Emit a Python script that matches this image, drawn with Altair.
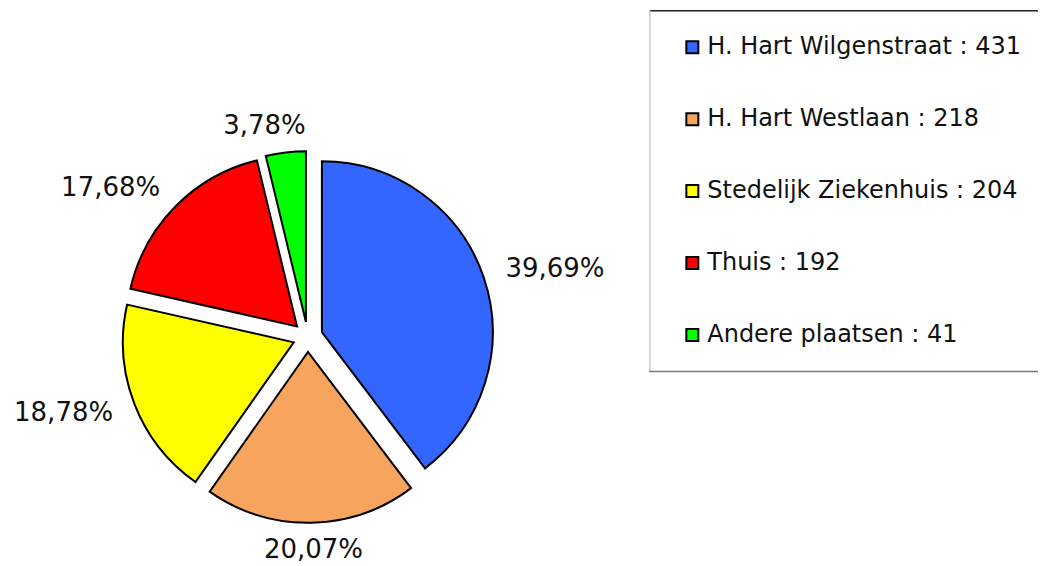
import altair as alt
import pandas as pd

categories = ["H. Hart Wilgenstraat", "H. Hart Westlaan", "Stedelijk Ziekenhuis", "Thuis", "Andere plaatsen"]
counts = [431, 218, 204, 192, 41]
colors = ["#3366FF", "#F7A55E", "#FFFF00", "#FF0000", "#00FF00"]

legend_labels = [f"{c} : {v}" for c, v in zip(categories, counts)]
df = pd.DataFrame({"cat": categories, "count": counts, "idx": list(range(len(categories))), "legend": legend_labels})

CX, CY = 300, 329
R = 171
EXPLODE = 15
LABEL_R = 213
FONT = "DejaVu Sans"

base = alt.Chart(df).transform_joinaggregate(
    total="sum(count)"
).transform_window(
    cum="sum(count)", sort=[alt.SortField("idx")], frame=[None, 0]
).transform_calculate(
    a0="2*PI*(datum.cum - datum.count)/datum.total",
    a1="2*PI*datum.cum/datum.total",
).transform_calculate(
    mid="(datum.a0 + datum.a1)/2"
).transform_calculate(
    cx=f"{CX} + {EXPLODE}*sin(datum.mid)",
    cy=f"{CY} - {EXPLODE}*cos(datum.mid)",
    lx=f"{CX} + {LABEL_R}*sin(datum.mid)",
    ly=f"{CY} - {LABEL_R}*cos(datum.mid)",
    pct="replace(format(datum.count/datum.total, '.2%'), '.', ',')",
)

arcs = base.mark_arc(stroke="black", strokeWidth=2, outerRadius=R).encode(
    x=alt.X("cx:Q", scale=None),
    y=alt.Y("cy:Q", scale=None),
    theta=alt.Theta("a0:Q", scale=None),
    theta2="a1:Q",
    color=alt.Color(
        "legend:N",
        scale=alt.Scale(domain=legend_labels, range=colors),
        legend=alt.Legend(
            orient="none", legendX=673, legendY=27, title=None,
            symbolType="square", symbolSize=144, symbolStrokeColor="black",
            symbolStrokeWidth=2, symbolOpacity=1,
            labelFont=FONT, labelFontSize=24, labelColor="#111111",
            labelOffset=3, rowPadding=48, padding=0, labelLimit=600,
        ),
    ),
)

def label_layer(flt, align, dx=0):
    return base.transform_filter(flt).mark_text(
        align=align, baseline="middle", font=FONT, fontSize=26, color="#111111", dx=dx
    ).encode(
        x=alt.X("lx:Q", scale=None),
        y=alt.Y("ly:Q", scale=None),
        text="pct:N",
    )

lab_r = label_layer("sin(datum.mid) > 0.5", "left", -4)
lab_l = label_layer("sin(datum.mid) < -0.5", "right", 4)
lab_b = label_layer("abs(sin(datum.mid)) <= 0.5 && cos(datum.mid) < 0", "center", 2)
lab_t = label_layer("abs(sin(datum.mid)) <= 0.5 && cos(datum.mid) >= 0", "center", -18)

one = alt.Data(values=[{}])
top_rule = alt.Chart(one).mark_rule(color="#222222", strokeWidth=1.5).encode(
    x=alt.value(642), x2=alt.value(1031), y=alt.value(2.5))
left_rule = alt.Chart(one).mark_rule(color="#cccccc", strokeWidth=1.5).encode(
    x=alt.value(642.5), y=alt.value(2), y2=alt.value(364))
bottom_rule = alt.Chart(one).mark_rule(color="#777777", strokeWidth=1.5).encode(
    x=alt.value(642), x2=alt.value(1031), y=alt.value(363.5))

chart = alt.layer(top_rule, left_rule, bottom_rule, arcs, lab_r, lab_l, lab_b, lab_t).properties(
    width=1031, height=550, padding=0
).configure_view(stroke=None)

chart.save("out.html", embed_options={"renderer": "svg", "actions": False})
